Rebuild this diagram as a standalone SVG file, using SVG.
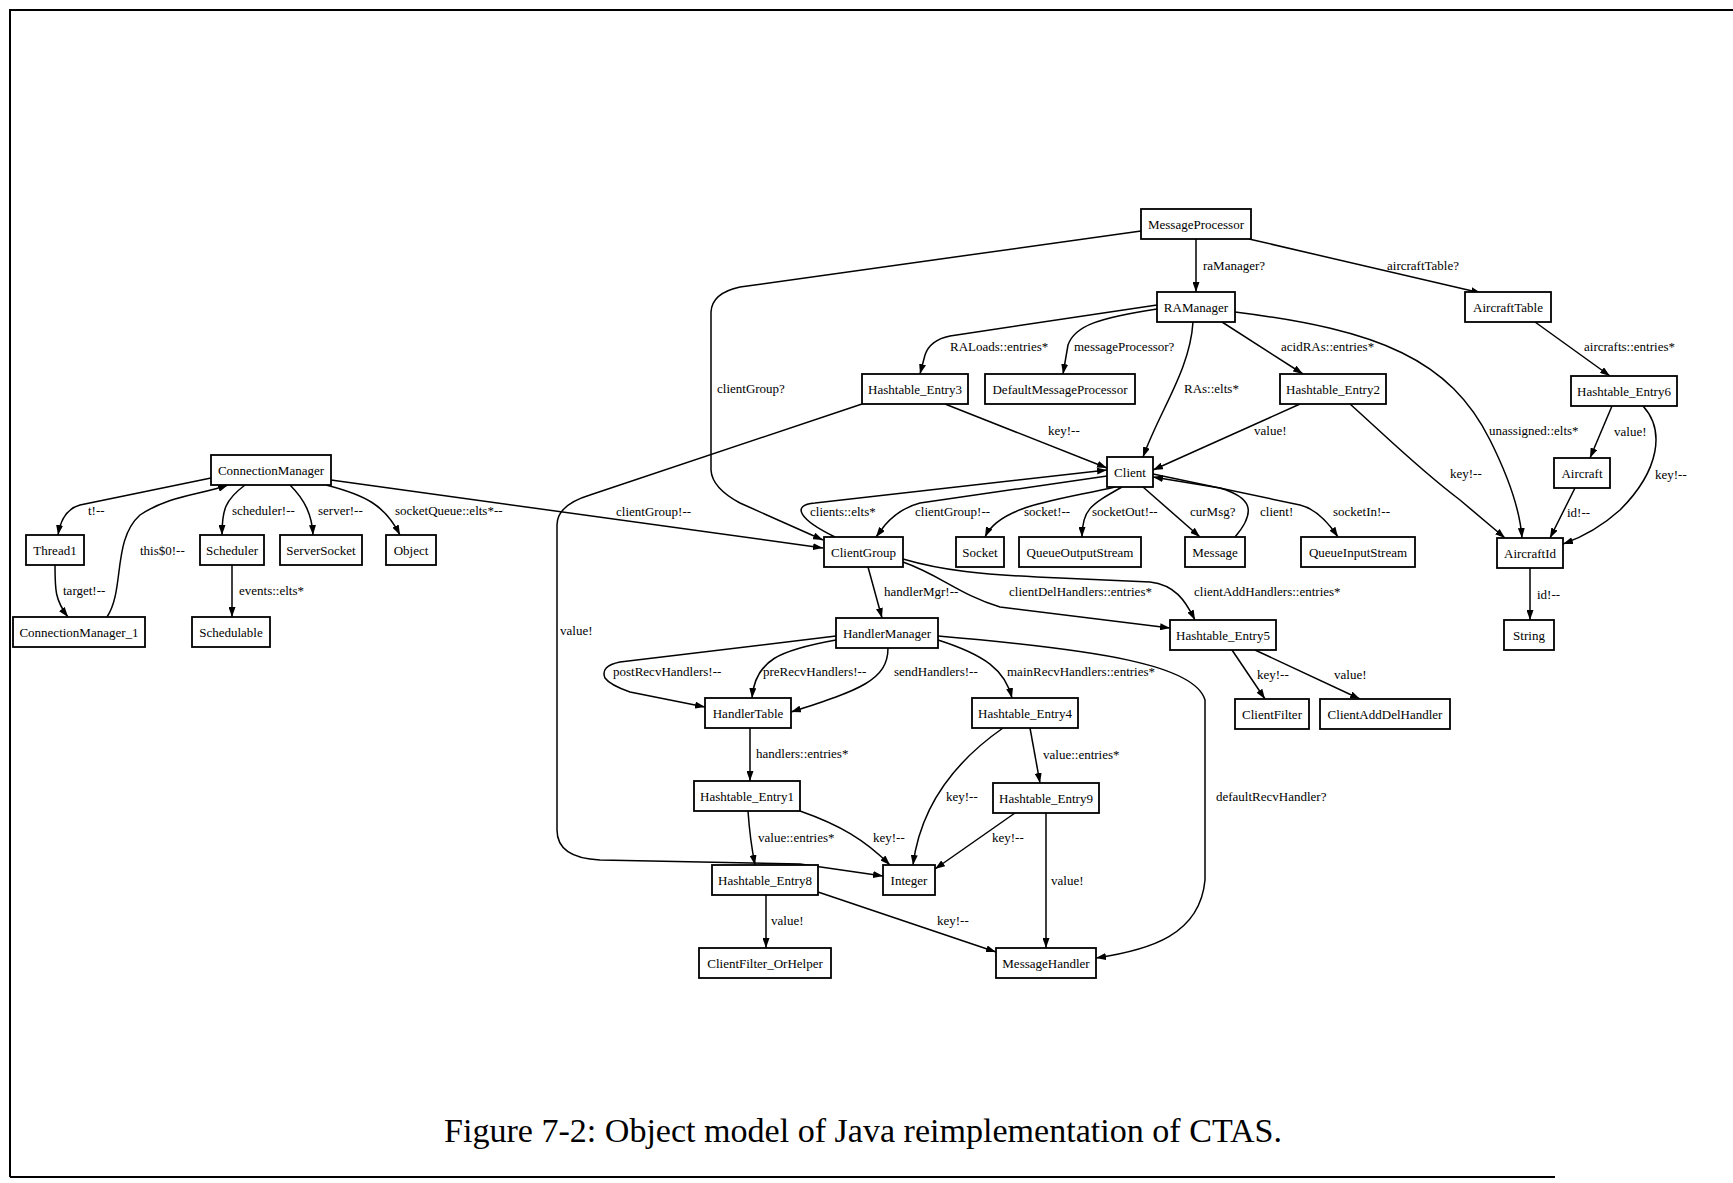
<svg xmlns="http://www.w3.org/2000/svg" width="1733" height="1183" viewBox="0 0 1733 1183">
  <style>
    .node rect { fill: #ffffff; stroke: #000000; stroke-width: 1.8; }
    .node text { font-family: "Liberation Serif", "Times New Roman", serif; font-size: 13px; fill: #000000; text-anchor: middle; }
    .edge { fill: none; stroke: #000000; stroke-width: 1.5; marker-end: url(#arrow); }
    .lbl { font-family: "Liberation Serif", "Times New Roman", serif; font-size: 13px; fill: #000000; }
    .frame { fill: none; stroke: #000000; stroke-width: 2; }
    .caption { font-family: "Liberation Serif", "Times New Roman", serif; font-size: 33px; fill: #000000; }
  </style>
  <defs>
    <marker id="arrow" markerUnits="userSpaceOnUse" markerWidth="10" markerHeight="7" refX="10" refY="3.5" orient="auto">
      <path d="M0,0 L10,3.5 L0,7 z" fill="#000000"/>
    </marker>
  </defs>

  <rect width="1733" height="1183" fill="#ffffff"/>

  <!-- page frame -->
  <g id="frame">
    <path class="frame" d="M10 1177 L10 10 L1733 10"/>
    <path class="frame" d="M10 1177 L1555 1177"/>
  </g>

  <!-- connectors with their role labels -->
  <g id="connectors">
    <path class="edge" d="M1196 239 L1196 292"/>
    <text class="lbl" x="1203" y="270">raManager?</text>

    <path class="edge" d="M1249 239 L1481 293"/>
    <text class="lbl" x="1387" y="270">aircraftTable?</text>

    <path class="edge" d="M1141 231 L740 287 Q712 293 711 312 L711 470 Q712 488 740 503 L823 540"/>
    <text class="lbl" x="717" y="393">clientGroup?</text>

    <path class="edge" d="M1157 305 L950 336 Q930 340 925 355 L920 374"/>
    <text class="lbl" x="950" y="351">RALoads::entries*</text>

    <path class="edge" d="M1157 309 C1100 318 1075 325 1068 345 L1063 374"/>
    <text class="lbl" x="1074" y="351">messageProcessor?</text>

    <path class="edge" d="M1193 322 C1190 370 1160 410 1143 457"/>
    <text class="lbl" x="1184" y="393">RAs::elts*</text>

    <path class="edge" d="M1222 322 L1303 374"/>
    <text class="lbl" x="1281" y="351">acidRAs::entries*</text>

    <path class="edge" d="M1235 312 C1380 330 1450 360 1490 440 C1510 480 1520 510 1522 538"/>
    <text class="lbl" x="1489" y="435">unassigned::elts*</text>

    <path class="edge" d="M945 404 L1107 468"/>
    <text class="lbl" x="1048" y="435">key!--</text>

    <path class="edge" d="M862 404 L590 495 Q557 505 557 525 L557 830 Q557 858 600 860 L800 864 L883 876"/>
    <text class="lbl" x="560" y="635">value!</text>

    <path class="edge" d="M1300 404 L1153 470"/>
    <text class="lbl" x="1254" y="435">value!</text>

    <path class="edge" d="M1350 404 C1390 440 1420 470 1460 500 L1505 538"/>
    <text class="lbl" x="1450" y="478">key!--</text>

    <path class="edge" d="M1535 322 L1610 376"/>
    <text class="lbl" x="1584" y="351">aircrafts::entries*</text>

    <path class="edge" d="M1612 406 L1590 458"/>
    <text class="lbl" x="1614" y="436">value!</text>

    <path class="edge" d="M1643 406 C1665 430 1660 470 1620 510 C1600 528 1580 538 1563 544"/>
    <text class="lbl" x="1655" y="479">key!--</text>

    <path class="edge" d="M1575 488 L1550 538"/>
    <text class="lbl" x="1567" y="517">id!--</text>

    <path class="edge" d="M1530 568 L1530 620"/>
    <text class="lbl" x="1537" y="599">id!--</text>

    <path class="edge" d="M1107 476 L920 503 Q900 508 885 525 L876 537"/>
    <text class="lbl" x="915" y="516">clientGroup!--</text>

    <path class="edge" d="M835 537 C800 520 790 505 815 503 L1107 470"/>
    <text class="lbl" x="810" y="516">clients::elts*</text>

    <path class="edge" d="M1115 487 C1060 500 1000 505 985 537"/>
    <text class="lbl" x="1024" y="516">socket!--</text>

    <path class="edge" d="M1122 487 C1090 505 1082 510 1082 537"/>
    <text class="lbl" x="1092" y="516">socketOut!--</text>

    <path class="edge" d="M1143 487 L1200 537"/>
    <text class="lbl" x="1190" y="516">curMsg?</text>

    <path class="edge" d="M1235 537 C1258 510 1250 497 1220 488 L1153 477"/>
    <text class="lbl" x="1260" y="516">client!</text>

    <path class="edge" d="M1153 474 L1300 505 Q1320 510 1338 537"/>
    <text class="lbl" x="1333" y="516">socketIn!--</text>

    <path class="edge" d="M211 478 L80 505 Q62 510 58 535"/>
    <text class="lbl" x="88" y="515">t!--</text>

    <path class="edge" d="M107 617 C125 590 112 540 140 515 C170 495 200 495 228 485"/>
    <text class="lbl" x="140" y="555">this$0!--</text>

    <path class="edge" d="M245 485 C225 500 222 510 222 535"/>
    <text class="lbl" x="232" y="515">scheduler!--</text>

    <path class="edge" d="M290 485 C305 500 312 515 313 535"/>
    <text class="lbl" x="318" y="515">server!--</text>

    <path class="edge" d="M326 485 C365 495 385 505 400 535"/>
    <text class="lbl" x="395" y="515">socketQueue::elts*--</text>

    <path class="edge" d="M331 480 L823 548"/>
    <text class="lbl" x="616" y="516">clientGroup!--</text>

    <path class="edge" d="M55 565 C55 590 55 600 68 617"/>
    <text class="lbl" x="63" y="595">target!--</text>

    <path class="edge" d="M232 565 L232 617"/>
    <text class="lbl" x="239" y="595">events::elts*</text>

    <path class="edge" d="M868 567 L882 618"/>
    <text class="lbl" x="884" y="596">handlerMgr!--</text>

    <path class="edge" d="M903 562 C940 575 960 595 1000 607 L1170 628"/>
    <text class="lbl" x="1009" y="596">clientDelHandlers::entries*</text>

    <path class="edge" d="M903 559 C940 570 980 575 1060 578 L1150 582 C1175 585 1185 600 1195 620"/>
    <text class="lbl" x="1194" y="596">clientAddHandlers::entries*</text>

    <path class="edge" d="M1232 650 L1265 699"/>
    <text class="lbl" x="1257" y="679">key!--</text>

    <path class="edge" d="M1255 650 L1360 699"/>
    <text class="lbl" x="1334" y="679">value!</text>

    <path class="edge" d="M836 636 L620 662 Q600 666 605 678 Q610 685 630 692 L705 707"/>
    <text class="lbl" x="613" y="676">postRecvHandlers!--</text>

    <path class="edge" d="M836 640 C780 650 755 660 752 698"/>
    <text class="lbl" x="763" y="676">preRecvHandlers!--</text>

    <path class="edge" d="M888 648 C888 680 860 690 791 712"/>
    <text class="lbl" x="894" y="676">sendHandlers!--</text>

    <path class="edge" d="M938 640 C985 655 1005 670 1012 698"/>
    <text class="lbl" x="1007" y="676">mainRecvHandlers::entries*</text>

    <path class="edge" d="M938 636 C1100 650 1195 665 1205 700 L1205 880 C1200 935 1150 950 1096 958"/>
    <text class="lbl" x="1216" y="801">defaultRecvHandler?</text>

    <path class="edge" d="M750 728 L750 781"/>
    <text class="lbl" x="756" y="758">handlers::entries*</text>

    <path class="edge" d="M1003 728 C950 765 920 810 913 865"/>
    <text class="lbl" x="946" y="801">key!--</text>

    <path class="edge" d="M1030 728 L1040 783"/>
    <text class="lbl" x="1043" y="759">value::entries*</text>

    <path class="edge" d="M748 811 C750 840 752 850 755 865"/>
    <text class="lbl" x="758" y="842">value::entries*</text>

    <path class="edge" d="M800 811 C840 825 865 840 890 865"/>
    <text class="lbl" x="873" y="842">key!--</text>

    <path class="edge" d="M1015 813 L935 869"/>
    <text class="lbl" x="992" y="842">key!--</text>

    <path class="edge" d="M1046 813 L1046 948"/>
    <text class="lbl" x="1051" y="885">value!</text>

    <path class="edge" d="M766 895 L766 948"/>
    <text class="lbl" x="771" y="925">value!</text>

    <path class="edge" d="M818 892 L996 952"/>
    <text class="lbl" x="937" y="925">key!--</text>
  </g>

  <!-- object nodes -->
  <g id="MessageProcessor" class="node"><rect x="1141" y="209" width="110" height="30"/><text x="1196" y="228.5">MessageProcessor</text></g>
  <g id="RAManager" class="node"><rect x="1157" y="292" width="78" height="30"/><text x="1196" y="311.5">RAManager</text></g>
  <g id="AircraftTable" class="node"><rect x="1465" y="292" width="86" height="30"/><text x="1508" y="311.5">AircraftTable</text></g>
  <g id="Hashtable_Entry3" class="node"><rect x="862" y="374" width="106" height="30"/><text x="915" y="393.5">Hashtable_Entry3</text></g>
  <g id="DefaultMessageProcessor" class="node"><rect x="985" y="374" width="150" height="30"/><text x="1060" y="393.5">DefaultMessageProcessor</text></g>
  <g id="Hashtable_Entry2" class="node"><rect x="1280" y="374" width="106" height="30"/><text x="1333" y="393.5">Hashtable_Entry2</text></g>
  <g id="Hashtable_Entry6" class="node"><rect x="1571" y="376" width="106" height="30"/><text x="1624" y="395.5">Hashtable_Entry6</text></g>
  <g id="Client" class="node"><rect x="1107" y="457" width="46" height="30"/><text x="1130" y="476.5">Client</text></g>
  <g id="Aircraft" class="node"><rect x="1554" y="458" width="56" height="30"/><text x="1582" y="477.5">Aircraft</text></g>
  <g id="ConnectionManager" class="node"><rect x="211" y="455" width="120" height="30"/><text x="271" y="474.5">ConnectionManager</text></g>
  <g id="Thread1" class="node"><rect x="26" y="535" width="58" height="30"/><text x="55" y="554.5">Thread1</text></g>
  <g id="Scheduler" class="node"><rect x="200" y="535" width="64" height="30"/><text x="232" y="554.5">Scheduler</text></g>
  <g id="ServerSocket" class="node"><rect x="280" y="535" width="82" height="30"/><text x="321" y="554.5">ServerSocket</text></g>
  <g id="Object" class="node"><rect x="386" y="535" width="50" height="30"/><text x="411" y="554.5">Object</text></g>
  <g id="ClientGroup" class="node"><rect x="824" y="537" width="79" height="30"/><text x="863.5" y="556.5">ClientGroup</text></g>
  <g id="Socket" class="node"><rect x="956" y="537" width="48" height="30"/><text x="980" y="556.5">Socket</text></g>
  <g id="QueueOutputStream" class="node"><rect x="1019" y="537" width="122" height="30"/><text x="1080" y="556.5">QueueOutputStream</text></g>
  <g id="Message" class="node"><rect x="1185" y="537" width="60" height="30"/><text x="1215" y="556.5">Message</text></g>
  <g id="QueueInputStream" class="node"><rect x="1301" y="537" width="114" height="30"/><text x="1358" y="556.5">QueueInputStream</text></g>
  <g id="AircraftId" class="node"><rect x="1497" y="538" width="66" height="30"/><text x="1530" y="557.5">AircraftId</text></g>
  <g id="ConnectionManager_1" class="node"><rect x="13" y="617" width="132" height="30"/><text x="79" y="636.5">ConnectionManager_1</text></g>
  <g id="Schedulable" class="node"><rect x="192" y="617" width="78" height="30"/><text x="231" y="636.5">Schedulable</text></g>
  <g id="HandlerManager" class="node"><rect x="836" y="618" width="102" height="30"/><text x="887" y="637.5">HandlerManager</text></g>
  <g id="Hashtable_Entry5" class="node"><rect x="1170" y="620" width="106" height="30"/><text x="1223" y="639.5">Hashtable_Entry5</text></g>
  <g id="String" class="node"><rect x="1504" y="620" width="50" height="30"/><text x="1529" y="639.5">String</text></g>
  <g id="HandlerTable" class="node"><rect x="705" y="698" width="86" height="30"/><text x="748" y="717.5">HandlerTable</text></g>
  <g id="Hashtable_Entry4" class="node"><rect x="972" y="698" width="106" height="30"/><text x="1025" y="717.5">Hashtable_Entry4</text></g>
  <g id="ClientFilter" class="node"><rect x="1235" y="699" width="74" height="30"/><text x="1272" y="718.5">ClientFilter</text></g>
  <g id="ClientAddDelHandler" class="node"><rect x="1320" y="699" width="130" height="30"/><text x="1385" y="718.5">ClientAddDelHandler</text></g>
  <g id="Hashtable_Entry1" class="node"><rect x="694" y="781" width="106" height="30"/><text x="747" y="800.5">Hashtable_Entry1</text></g>
  <g id="Hashtable_Entry9" class="node"><rect x="993" y="783" width="106" height="30"/><text x="1046" y="802.5">Hashtable_Entry9</text></g>
  <g id="Integer" class="node"><rect x="883" y="865" width="52" height="30"/><text x="909" y="884.5">Integer</text></g>
  <g id="Hashtable_Entry8" class="node"><rect x="712" y="865" width="106" height="30"/><text x="765" y="884.5">Hashtable_Entry8</text></g>
  <g id="ClientFilter_OrHelper" class="node"><rect x="699" y="948" width="132" height="30"/><text x="765" y="967.5">ClientFilter_OrHelper</text></g>
  <g id="MessageHandler" class="node"><rect x="996" y="948" width="100" height="30"/><text x="1046" y="967.5">MessageHandler</text></g>

  <!-- figure caption -->
  <text class="caption" x="444" y="1142" textLength="838" lengthAdjust="spacingAndGlyphs">Figure 7-2: Object model of Java reimplementation of CTAS.</text>
</svg>
